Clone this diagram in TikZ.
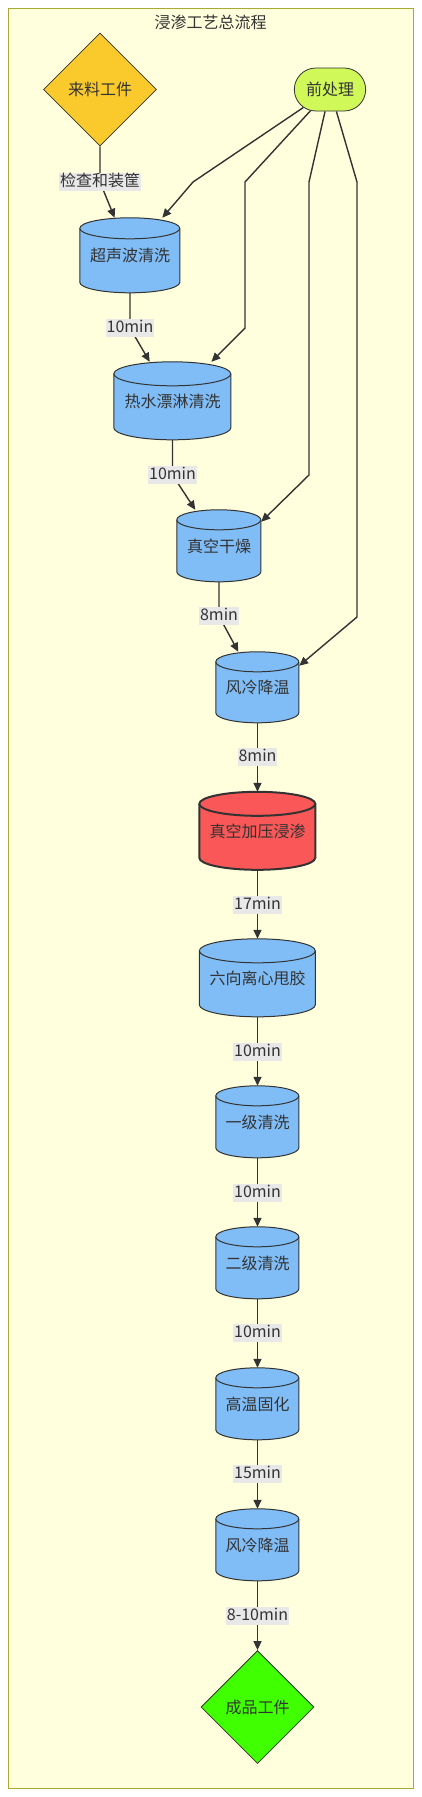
\documentclass[tikz,border=0pt]{standalone}
\usepackage{fontspec}
\setmainfont{Noto Sans CJK SC}
\usetikzlibrary{shapes.geometric,shapes.misc,arrows.meta,calc}
\definecolor{txt}{HTML}{333333}
\definecolor{frameFill}{HTML}{FFFFDE}
\definecolor{frameLine}{HTML}{AAAA33}
\definecolor{cylBlue}{HTML}{80BDF6}
\definecolor{cylRed}{HTML}{FA5858}
\definecolor{startY}{HTML}{FACA2C}
\definecolor{preG}{HTML}{D0F858}
\definecolor{endG}{HTML}{40FF00}
\definecolor{lblBg}{HTML}{E8E8E8}
\pgfdeclarelayer{bg}
\pgfdeclarelayer{shp}
\pgfsetlayers{bg,shp,main}
\tikzset{
  every node/.style={font=\fontsize{16pt}{19pt}\selectfont, text=txt},
  framebox/.style={draw=frameLine, fill=frameFill, line width=1pt},
  cyltext/.style={rectangle, inner sep=0pt},
  cylline/.style={draw=txt, line width=1pt},
  decision/.style={diamond, draw=txt, line width=0.8pt, inner sep=0pt, minimum width=113pt, minimum height=113pt},
  prebox/.style={rounded rectangle, draw=txt, line width=0.8pt, fill=preG, minimum width=78pt, minimum height=43pt},
  elabel/.style={fill=lblBg, inner xsep=1pt, inner ysep=1pt, text height=12.5pt, text depth=3.5pt},
  flow/.style={draw=txt, line width=1.4pt, -{Triangle[length=9pt,width=8pt]}},
}
% name, cx, cy, width, height, ry, options, text
\newcommand\mycyl[8]{%
  \node[cyltext, minimum width=#4pt, minimum height=#5pt] (#1) at (#2,-#3) {#8};
  \pgfmathsetlengthmacro\myrx{#4/2*1pt}%
  \pgfmathsetlengthmacro\mybh{(#5-2*#6)*1pt}%
  \begin{pgfonlayer}{shp}
    \path[cylline, #7] ([yshift=-#6pt]#1.north west) -- ++(0pt,-\mybh)
      arc[start angle=180, end angle=360, x radius=\myrx, y radius=#6pt]
      -- ++(0pt,\mybh)
      arc[start angle=0, end angle=180, x radius=\myrx, y radius=#6pt] -- cycle;
    \path[cylline, #7] ([yshift=-#6pt]#1.north west)
      arc[start angle=180, end angle=360, x radius=\myrx, y radius=#6pt];
  \end{pgfonlayer}
}
\begin{document}
\begin{tikzpicture}[x=1pt,y=1pt]
\useasboundingbox (0,0) rectangle (422,-1797);
\begin{pgfonlayer}{bg}
  \path[framebox] (8,-8) rectangle (413,-1788);
\end{pgfonlayer}
\node (title) at (210.5,-22) {浸渗工艺总流程};
\node[decision, fill=startY] (lai) at (100,-89.5) {来料工件};
\node[prebox] (pre) at (330,-89.5) {前处理};

\mycyl{c1}{130}{255.5}{100}{75}{10.5}{fill=cylBlue}{超声波清洗}
\mycyl{c2}{172.5}{401}{117}{78}{12}{fill=cylBlue}{热水漂淋清洗}
\mycyl{c3}{219}{546}{84}{72}{10}{fill=cylBlue}{真空干燥}
\mycyl{c4}{257.5}{687.5}{83}{71}{10}{fill=cylBlue}{风冷降温}
\mycyl{c5}{257.5}{831}{116}{78}{12}{fill=cylRed, line width=2pt}{真空加压浸渗}
\mycyl{c6}{257.5}{978}{116}{78}{12}{fill=cylBlue}{六向离心甩胶}
\mycyl{c7}{257.5}{1122}{83}{72}{10}{fill=cylBlue}{一级清洗}
\mycyl{c8}{257.5}{1263}{83}{72}{10}{fill=cylBlue}{二级清洗}
\mycyl{c9}{257.5}{1404}{83}{72}{10}{fill=cylBlue}{高温固化}
\mycyl{c10}{257.5}{1545}{83}{72}{10}{fill=cylBlue}{风冷降温}
\node[decision, fill=endG] (fin) at (257.5,-1707) {成品工件};

% bend points
\coordinate (k1) at (100,-182);
\coordinate (k2) at (130,-328);
\coordinate (k3) at (172.5,-475);
\coordinate (k4) at (219,-616);
\coordinate (p1) at (193,-182);
\coordinate (p2) at (245,-182);
\coordinate (p2b) at (245,-328);
\coordinate (p3) at (309,-182);
\coordinate (p3b) at (309,-475);
\coordinate (p4) at (357,-182);
\coordinate (p4b) at (357,-617);

% connectors
\draw[flow] (lai) -- (k1) -- (c1);
\draw[flow] (c1) -- (k2) -- (c2);
\draw[flow] (c2) -- (k3) -- (c3);
\draw[flow] (c3) -- (k4) -- (c4);
\draw[flow] (c4) -- (c5);
\draw[flow] (c5) -- (c6);
\draw[flow] (c6) -- (c7);
\draw[flow] (c7) -- (c8);
\draw[flow] (c8) -- (c9);
\draw[flow] (c9) -- (c10);
\draw[flow] (c10) -- (fin);
\draw[flow] (pre) -- (p1) -- (c1);
\draw[flow] (pre) -- (p2) -- (p2b) -- (c2);
\draw[flow] (pre) -- (p3) -- (p3b) -- ([yshift=-12pt]c3.north east);
\draw[flow] (pre) -- (p4) -- (p4b) -- ([yshift=-14pt]c4.north east);

% edge labels
\node[elabel] (l1) at (k1) {检查和装筐};
\node[elabel] (l2) at (k2) {10min};
\node[elabel] (l3) at (k3) {10min};
\node[elabel] (l4) at (k4) {8min};
\node[elabel] (l5) at (257.5,-757) {8min};
\node[elabel] (l6) at (257.5,-905) {17min};
\node[elabel] (l7) at (257.5,-1052) {10min};
\node[elabel] (l8) at (257.5,-1193) {10min};
\node[elabel] (l9) at (257.5,-1333) {10min};
\node[elabel] (l10) at (257.5,-1474) {15min};
\node[elabel] (l11) at (257.5,-1616) {8-10min};
\end{tikzpicture}
\end{document}
